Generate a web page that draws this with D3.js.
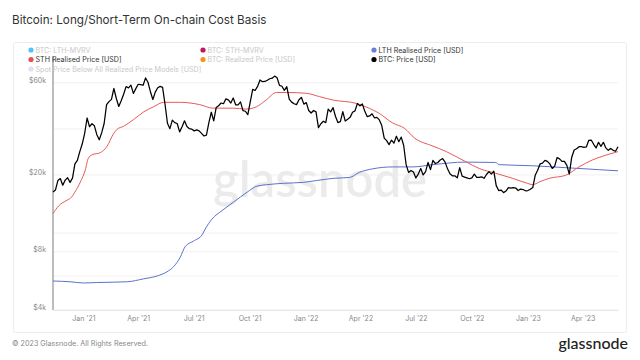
<!DOCTYPE html>
<html><head><meta charset="utf-8">
<script src="https://cdn.jsdelivr.net/npm/d3@7"></script>
<style>
html,body{margin:0;padding:0;background:#fff;}
svg{display:block;font-family:Inter,Roboto,"Noto Sans",sans-serif;}
</style></head><body>
<svg id="c" width="640" height="360"></svg>
<script>
// ---- DATA ----
const priceStart = "2020-11-12";
const priceStepDays = 4;
const btcPrice = [16300,16700,18700,19150,17700,18800,19350,18300,19250,22800,23800,26400,28900,32800,39400,35500,36800,35900,32300,30400,33100,36900,46200,47900,49200,56000,49700,45200,48400,52300,57300,56400,58300,52800,55900,58900,58700,58200,63500,60300,53900,49100,53600,56500,57400,56700,46400,37000,34700,38400,37300,36900,33400,35500,38100,35600,34700,34500,33800,34200,33800,32800,31800,32100,37300,42200,38100,44600,45600,47100,46700,49500,48900,47100,50000,46100,46100,47700,43000,42700,41000,47700,55400,54700,57400,62000,60700,60900,61800,62900,63300,64900,63600,58100,57500,54800,57200,49400,47600,46700,46200,49000,50400,46500,47300,43100,41800,43100,42400,35100,36800,37900,37300,43800,42400,44600,40100,37300,37700,42500,38000,38800,39700,42200,42900,46800,45500,46600,42800,40100,40400,41400,39500,39700,38500,36000,31000,30100,28700,30300,29200,31700,29700,31400,28400,22600,20600,21100,20700,19300,20200,21600,20000,20800,23200,21300,23800,22900,23200,23900,24300,23300,21500,20300,19800,19800,19300,21800,19700,19500,19300,19100,19300,20200,19400,19400,19550,19200,20100,20800,20200,20900,17600,16600,16700,16200,16500,17200,17100,17200,17100,16600,16900,16800,16550,16600,16850,17200,19900,21150,22800,23000,23800,23500,22800,21600,22200,24600,24200,23500,23500,22400,20200,24700,26900,27300,28000,28000,27800,27900,30200,30300,28800,27600,29500,28100,29500,27600,26800,27400,26800,26500,28000];

const sthDates = ["2020-11-12","2020-11-21","2020-12-05","2020-12-13","2020-12-18","2020-12-27","2021-01-04","2021-01-09","2021-01-15","2021-01-29","2021-02-09","2021-02-19","2021-02-25","2021-03-08","2021-03-24","2021-04-10","2021-04-26","2021-05-13","2021-06-09","2021-07-11","2021-08-02","2021-09-04","2021-09-25","2021-10-12","2021-10-28","2021-11-14","2021-11-30","2022-01-02","2022-01-24","2022-02-15","2022-03-25","2022-04-10","2022-05-02","2022-05-24","2022-06-12","2022-06-29","2022-07-29","2022-08-20","2022-09-21","2022-10-13","2022-11-09","2022-12-07","2022-12-31","2023-01-09","2023-01-20","2023-02-05","2023-03-04","2023-03-26","2023-04-17","2023-05-09","2023-05-29"];
const sthPrice = [12600,13800,14800,15400,16300,18400,21200,24400,25400,26100,28200,32500,34400,35700,38600,42400,45000,47500,47500,46200,44300,44300,43800,45000,48800,53400,53400,52900,50800,48800,46900,45000,41600,37100,34900,31000,28200,26400,23400,21600,20400,19200,18100,17800,18400,19200,19900,22000,23900,25300,26400];

const lthDates = ["2020-11-12","2020-12-10","2021-01-01","2021-01-23","2021-03-14","2021-04-10","2021-05-02","2021-05-18","2021-05-29","2021-06-09","2021-06-17","2021-07-01","2021-07-15","2021-07-20","2021-07-31","2021-08-17","2021-09-05","2021-09-27","2021-10-13","2021-10-29","2021-11-26","2021-12-28","2022-01-19","2022-02-15","2022-03-14","2022-03-30","2022-04-21","2022-05-24","2022-06-26","2022-07-29","2022-09-21","2022-11-09","2022-11-15","2023-01-09","2023-03-04","2023-04-27","2023-05-29"];
const lthPrice = [5650,5600,5520,5550,5600,5800,6000,6300,6700,7500,8500,9100,9800,10500,11800,13100,14500,16300,17500,17800,18100,18300,18700,19200,19400,20600,21500,22000,22000,22600,23300,23200,22600,22300,21800,21300,21000];

const yTicks = [4000, 8000, 20000, 60000];
const yGrid = [4000, 6000, 8000, 10000, 20000, 34600, 60000];
const xTickDates = ["2021-01-01","2021-04-01","2021-07-01","2021-10-01","2022-01-01","2022-04-01","2022-07-01","2022-10-01","2023-01-01","2023-04-01"];
const xDomain = ["2020-11-12","2023-05-29"];

const legendItems = [
  {name:"BTC: LTH-MVRV", color:"#4fc3f7", active:false},
  {name:"BTC: STH-MVRV", color:"#c2185b", active:false},
  {name:"LTH Realised Price [USD]", color:"#6b7fd7", active:true},
  {name:"STH Realised Price [USD]", color:"#e8504f", active:true},
  {name:"BTC: Realized Price [USD]", color:"#f7931a", active:false},
  {name:"BTC: Price [USD]", color:"#000000", active:true},
  {name:"Spot Price Below All Realized Price Models [USD]", color:"#e4dcf6", active:false}
];

// ---- CHART ----
const svg = d3.select("#c");
const parse = d3.utcParse("%Y-%m-%d");
const L = 53, R = 618, T = 82.7, B = 310;

const x = d3.scaleUtc().domain(xDomain.map(parse)).range([L, R]);
const y = d3.scaleLog().domain([4000, 60000]).range([B, T]);

// frame
svg.append("rect").attr("x",13.5).attr("y",42.5).attr("width",613).attr("height",290)
  .attr("rx",2).attr("fill","none").attr("stroke","#ececec");

// title
svg.append("text").attr("x",12).attr("y",24).attr("font-size",11.7).attr("fill","#333")
  .text("Bitcoin: Long/Short-Term On-chain Cost Basis");

// grid
svg.append("g").selectAll("line").data(yGrid).join("line")
  .attr("x1",L).attr("x2",R).attr("y1",d=>y(d)).attr("y2",d=>y(d))
  .attr("stroke","#f0f0f0").attr("stroke-width",1);

// watermark
svg.append("text").attr("x",320).attr("y",197).attr("text-anchor","middle")
  .attr("font-size",49).attr("font-weight",600).attr("fill","#ebebeb")
  .attr("font-family","Lato,Inter,sans-serif").text("glassnode");

// y axis
const yAxis = d3.axisLeft(y).tickValues(yTicks).tickSize(0).tickPadding(7)
  .tickFormat(d=>"$"+(d/1000)+"k");
const gy = svg.append("g").attr("transform",`translate(${L},0)`).call(yAxis);
gy.select(".domain").remove();
gy.selectAll("text").attr("font-size",7).attr("fill","#888").attr("dy","-0.05em")
  .attr("font-family","Inter,Roboto,sans-serif");

// x axis
const xAxis = d3.axisBottom(x).tickValues(xTickDates.map(parse)).tickSize(0).tickPadding(6)
  .tickFormat(d3.utcFormat("%b '%y"));
const gx = svg.append("g").attr("transform",`translate(0,${B})`).call(xAxis);
gx.select(".domain").attr("stroke","#e6e6e6");
gx.selectAll("text").attr("font-size",7).attr("fill","#888").attr("font-family","Inter,Roboto,sans-serif");

// vertical axis line
svg.append("line").attr("x1",L).attr("x2",L).attr("y1",57).attr("y2",B)
  .attr("stroke","#9a9a9a").attr("stroke-width",1.3);

// series
const line = d3.line().x(d=>x(d[0])).y(d=>y(d[1]));
const lthData = lthDates.map((d,i)=>[parse(d), lthPrice[i]]);
const sthData = sthDates.map((d,i)=>[parse(d), sthPrice[i]]);
const p0 = parse(priceStart);
const priceData = btcPrice.map((v,i)=>[d3.utcDay.offset(p0, i*priceStepDays), v]);

svg.append("path").datum(lthData).attr("d",d3.line().x(d=>x(d[0])).y(d=>y(d[1])).curve(d3.curveMonotoneX))
  .attr("fill","none").attr("stroke","#5a72cc").attr("stroke-width",1);
svg.append("path").datum(sthData).attr("d",d3.line().x(d=>x(d[0])).y(d=>y(d[1])).curve(d3.curveMonotoneX))
  .attr("fill","none").attr("stroke","#e8595a").attr("stroke-width",1);
svg.append("path").datum(priceData).attr("d",line)
  .attr("fill","none").attr("stroke","#000").attr("stroke-width",1.25).attr("stroke-linejoin","round");

// legend
const colX = [31, 203, 374], rowY = [50, 59.5, 69];
const lg = svg.append("g").selectAll("g").data(legendItems).join("g")
  .attr("transform",(d,i)=>`translate(${colX[i%3]},${rowY[Math.floor(i/3)]})`);
lg.append("circle").attr("r",2.6).attr("fill",d=>d.color);
lg.append("text").attr("x",4.5).attr("y",2.5).attr("font-size",7.1)
  .attr("fill",d=>d.active?"#333":"#c8c8c8").text(d=>d.name);

// footer
svg.append("text").attr("x",12).attr("y",346).attr("font-size",7.2).attr("fill","#888")
  .text("© 2023 Glassnode. All Rights Reserved.");
svg.append("text").attr("x",628).attr("y",349).attr("text-anchor","end").attr("font-size",16)
  .attr("font-family","Lato,Inter,sans-serif").attr("font-weight",500).attr("fill","#222").text("glassnode");
</script>
</body></html>
